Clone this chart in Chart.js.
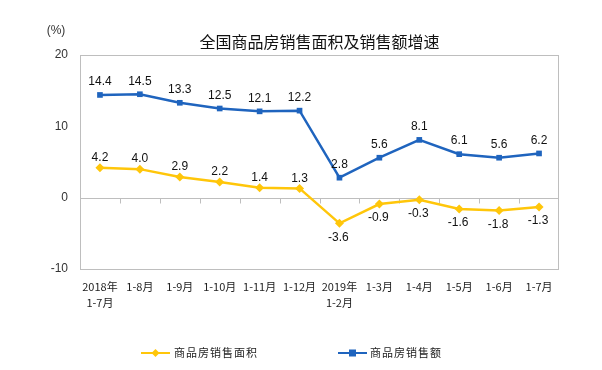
<!DOCTYPE html>
<html>
<head>
<meta charset="utf-8">
<script src="https://cdn.jsdelivr.net/npm/chart.js@4"></script>
<style>
html,body{margin:0;padding:0;background:#fff;}
canvas{display:block;}
</style>
</head>
<body>
<canvas id="c" width="602" height="370"></canvas>
<script>
const categories = [["2018年","1-7月"],"1-8月","1-9月","1-10月","1-11月","1-12月",["2019年","1-2月"],"1-3月","1-4月","1-5月","1-6月","1-7月"];
const areaGrowth = [4.2,4.0,2.9,2.2,1.4,1.3,-3.6,-0.9,-0.3,-1.6,-1.8,-1.3];
const salesGrowth = [14.4,14.5,13.3,12.5,12.1,12.2,2.8,5.6,8.1,6.1,5.6,6.2];
const yTicks = [20,10,0,-10];
const titleText = "全国商品房销售面积及销售额增速";
const unitText = "(%)";
const areaName = "商品房销售面积";
const salesName = "商品房销售额";

const BLUE = "#1F64BE";
const YELLOW = "#FFC60A";
const GRAY = "#BEBEBE";
const CJK = "'Noto Sans CJK SC', 'Noto Sans', sans-serif";
const NUM = "'Liberation Sans', Arial, sans-serif";

const decor = {
  id: 'decor',
  beforeDatasetsDraw(chart) {
    const ctx = chart.ctx, a = chart.chartArea, x = chart.scales.x, y = chart.scales.y;
    ctx.save();
    ctx.strokeStyle = GRAY;
    ctx.lineWidth = 1;
    ctx.strokeRect(Math.round(a.left)+0.5, Math.round(a.top)+0.5, Math.round(a.right-a.left)-1, Math.round(a.bottom-a.top));
    const y0 = Math.round(y.getPixelForValue(0)) + 0.5;
    ctx.beginPath();
    ctx.moveTo(a.left, y0); ctx.lineTo(a.right, y0);
    for (let i = 0; i < categories.length - 1; i++) {
      const bx = Math.round((x.getPixelForValue(i) + x.getPixelForValue(i+1)) / 2) + 0.5;
      ctx.moveTo(bx, y0); ctx.lineTo(bx, y0 + 5);
    }
    ctx.stroke();
    ctx.restore();
  },
  afterDatasetsDraw(chart) {
    const ctx = chart.ctx;
    ctx.save();
    ctx.font = "12px " + NUM;
    ctx.fillStyle = "#111";
    ctx.textAlign = "center";
    const mSales = chart.getDatasetMeta(1).data;
    ctx.textBaseline = "bottom";
    mSales.forEach((p, i) => {
      ctx.fillText(salesGrowth[i].toFixed(1), p.x, p.y - 7);
    });
    const mArea = chart.getDatasetMeta(0).data;
    mArea.forEach((p, i) => {
      const v = areaGrowth[i];
      if (v >= 0) { ctx.textBaseline = "bottom"; ctx.fillText(v.toFixed(1), p.x, p.y - 4); }
      else { ctx.textBaseline = "top"; ctx.fillText(v.toFixed(1), p.x - 1, p.y + 8); }
    });
    ctx.restore();
  },
  afterDraw(chart) {
    const ctx = chart.ctx, a = chart.chartArea;
    ctx.save();
    ctx.fillStyle = "#111";
    ctx.textAlign = "center";
    ctx.textBaseline = "middle";
    ctx.font = "16px " + CJK;
    ctx.fillText(titleText, (a.left + a.right) / 2, 42);
    ctx.font = "12px " + NUM;
    ctx.fillStyle = "#333";
    ctx.fillText(unitText, 56, 31);
    // legend
    const ly = 353;
    ctx.lineWidth = 2;
    ctx.strokeStyle = YELLOW; ctx.fillStyle = YELLOW;
    ctx.beginPath(); ctx.moveTo(141, ly); ctx.lineTo(170, ly); ctx.stroke();
    ctx.beginPath(); ctx.moveTo(155.5, ly-4); ctx.lineTo(159.5, ly); ctx.lineTo(155.5, ly+4); ctx.lineTo(151.5, ly); ctx.closePath(); ctx.fill();
    ctx.strokeStyle = BLUE; ctx.fillStyle = BLUE;
    ctx.beginPath(); ctx.moveTo(338, ly); ctx.lineTo(367, ly); ctx.stroke();
    ctx.fillRect(349, ly-3.5, 7, 7);
    ctx.fillStyle = "#222";
    ctx.textAlign = "left";
    ctx.font = "11px " + CJK;
    ctx.letterSpacing = "1px";
    ctx.fillText(areaName, 174, ly);
    ctx.fillText(salesName, 370, ly);
    ctx.restore();
  }
};

new Chart(document.getElementById('c'), {
  type: 'line',
  data: {
    labels: categories,
    datasets: [
      { label: areaName, data: areaGrowth, borderColor: YELLOW, backgroundColor: YELLOW,
        borderWidth: 2.5, pointStyle: 'rectRot', pointRadius: 4.5, pointHoverRadius: 4.5, pointBorderWidth: 0, tension: 0 },
      { label: salesName, data: salesGrowth, borderColor: BLUE, backgroundColor: BLUE,
        borderWidth: 2.5, pointStyle: 'rect', pointRadius: 4, pointHoverRadius: 4, pointBorderWidth: 0, tension: 0 }
    ]
  },
  options: {
    responsive: false,
    animation: false,
    devicePixelRatio: 1,
    layout: { padding: { left: 0, right: 43, top: 55, bottom: 0 } },
    plugins: { legend: { display: false }, title: { display: false }, tooltip: { enabled: false } },
    scales: {
      x: {
        offset: true,
        grid: { display: false, drawTicks: false },
        border: { display: false },
        ticks: { padding: 10, color: "#222", maxRotation: 0, autoSkip: false,
          font: { family: CJK, size: 11, lineHeight: 1.45 } },
        afterFit(s) { s.height = 101; }
      },
      y: {
        min: -10, max: 20,
        afterBuildTicks(s) { s.ticks = yTicks.map(v => ({ value: v })); },
        grid: { display: false, drawTicks: false },
        border: { display: false },
        ticks: { padding: 12, color: "#333", font: { family: NUM, size: 12 } },
        afterFit(s) { s.width = 80; }
      }
    }
  },
  plugins: [decor]
});
</script>
</body>
</html>
